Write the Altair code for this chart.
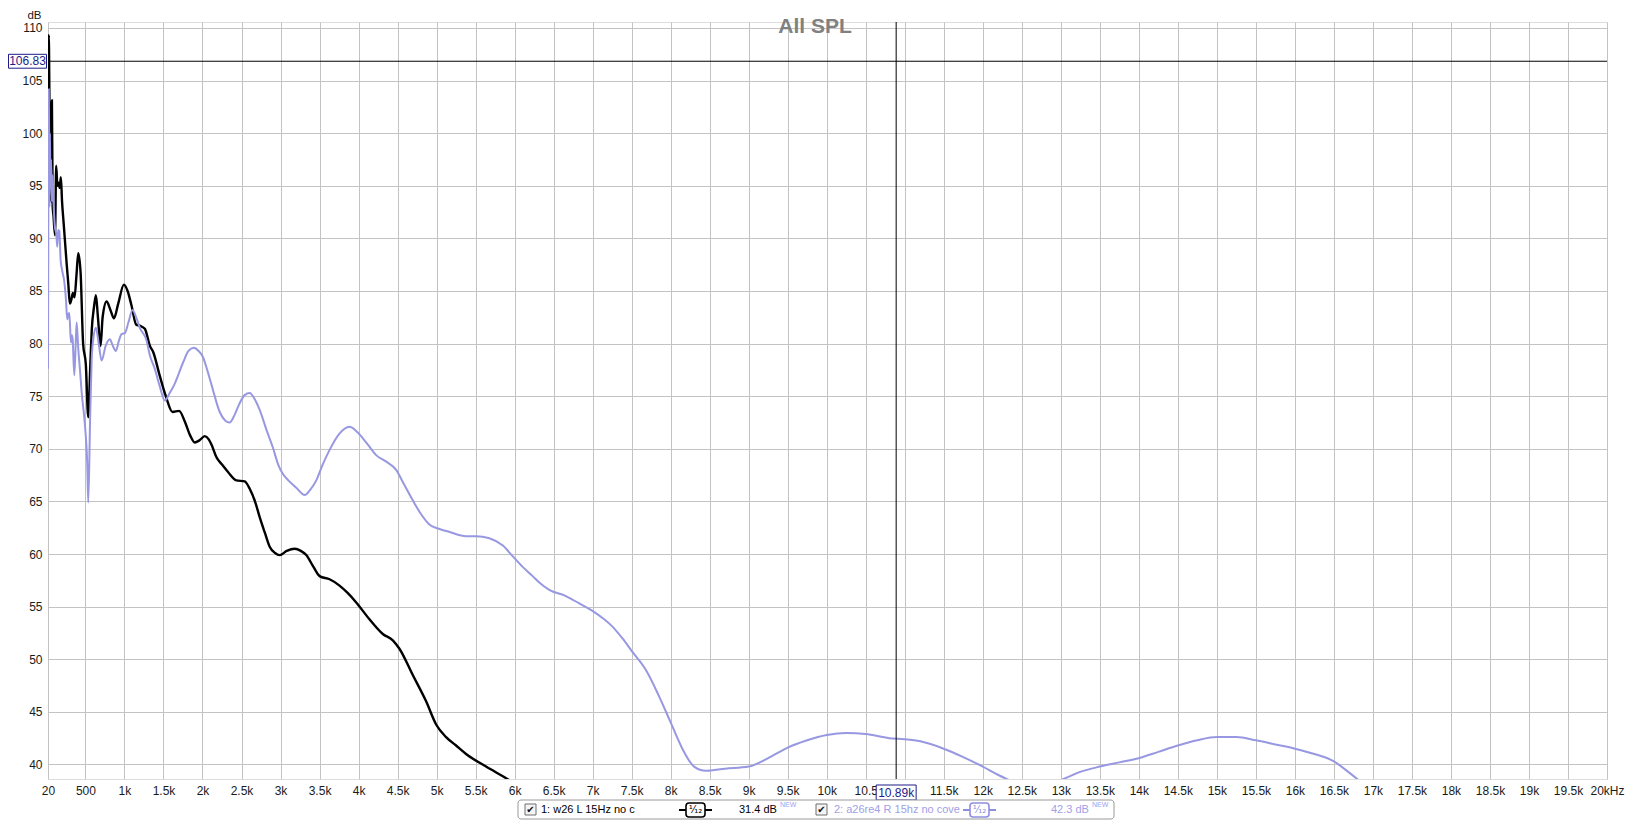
import altair as alt
import pandas as pd

# ---------------- data ----------------
black_freq = [20, 30, 40, 50, 60, 70, 80, 90, 110, 125,
              140, 155, 170, 185, 200, 220, 240, 260, 280, 300,
              320, 340, 360, 385, 408, 438, 470, 505, 536, 560,
              580, 610, 634, 660, 694, 720, 771, 820, 865, 920,
              993, 1040, 1091, 1150, 1197, 1261, 1325, 1368, 1450, 1530,
              1616, 1700, 1773, 1840, 1901, 1960, 2029, 2080, 2115, 2179,
              2250, 2327, 2434, 2541, 2605, 2682, 2733, 2800, 2861, 2930,
              2989, 3080, 3181, 3260, 3330, 3420, 3501, 3629, 3756, 3860,
              3970, 4140, 4311, 4439, 4524, 4695, 4866, 4994, 5122, 5250,
              5378, 5634, 5890, 6000]
black_spl = [102.0, 109.3, 102.0, 99.0, 93.5, 103.1, 93.0, 92.2, 90.3, 96.9,
             95.0, 95.3, 94.8, 95.8, 93.5, 91.5, 89.5, 87.5, 85.7, 83.8,
             84.2, 84.8, 84.4, 86.5, 88.6, 86.7, 80.0, 78.0, 73.0, 77.5,
             81.2, 83.5, 84.6, 82.5, 79.8, 82.5, 84.0, 83.2, 82.4, 83.8,
             85.6, 85.0, 83.6, 81.8, 81.7, 81.4, 79.8, 79.2, 77.0, 75.0,
             73.5, 73.6, 72.6, 71.3, 70.6, 70.8, 71.2, 70.9, 70.4, 69.2,
             68.5, 67.8, 67.0, 66.9, 66.2, 64.8, 63.5, 62.0, 60.7, 60.1,
             59.9, 60.3, 60.5, 60.3, 59.9, 58.8, 57.9, 57.6, 57.0, 56.3,
             55.4, 53.8, 52.4, 51.8, 51.0, 48.5, 46.0, 43.8, 42.6, 41.8,
             41.0, 39.8, 38.7, 38.2]

blue_freq = [20, 25, 30, 35, 40, 45, 50, 60, 70, 80,
             90, 100, 110, 125, 139, 150, 165, 182, 195, 208,
             225, 250, 267, 280, 293, 314, 325, 336, 357, 375,
             387, 408, 430, 451, 493, 523, 536, 560, 580, 600,
             634, 670, 707, 760, 813, 850, 890, 930, 963, 1005,
             1050, 1104, 1150, 1197, 1283, 1325, 1389, 1450, 1517, 1580,
             1645, 1751, 1820, 1888, 1950, 2007, 2060, 2115, 2221, 2290,
             2349, 2410, 2468, 2540, 2605, 2670, 2733, 2820, 2903, 2970,
             3031, 3100, 3202, 3309, 3380, 3458, 3540, 3629, 3750, 3884,
             3970, 4055, 4140, 4226, 4350, 4482, 4570, 4695, 4800, 4908,
             5030, 5164, 5378, 5506, 5676, 5850, 5974, 6100, 6231, 6316,
             6444, 6657, 6830, 6998, 7130, 7254, 7380, 7510, 7681, 7850,
             8000, 8150, 8300, 8450, 8700, 9000, 9250, 9500, 9750, 10000,
             10250, 10500, 10800, 11000, 11200, 11500, 11750, 12000, 12200, 12400,
             12600, 12800, 13000, 13250, 13500, 13750, 14000, 14250, 14500, 14750,
             15000, 15250, 15500, 15750, 16000, 16250, 16500, 16700, 16900]
blue_spl = [77.6, 95.0, 104.2, 99.0, 93.0, 100.0, 96.0, 97.5, 93.5, 96.0,
            93.6, 92.0, 91.0, 90.5, 89.2, 90.8, 90.7, 87.9, 87.2, 86.7,
            86.1, 84.2, 82.3, 82.8, 82.9, 80.1, 80.8, 80.4, 77.0, 80.0,
            82.0, 79.5, 77.5, 75.4, 72.3, 68.5, 64.9, 73.0, 78.5, 80.4,
            81.5, 80.0, 78.4, 79.8, 80.4, 79.8, 79.3, 80.3, 80.9, 81.0,
            82.0, 83.2, 82.5, 81.5, 80.3, 78.9, 77.6, 76.0, 74.6, 75.3,
            76.2, 78.2, 79.3, 79.6, 79.3, 78.7, 77.5, 76.1, 73.5, 72.7,
            72.5, 73.2, 74.2, 75.1, 75.3, 74.7, 73.7, 71.8, 70.1, 68.5,
            67.6, 67.0, 66.3, 65.6, 66.1, 67.0, 68.5, 69.9, 71.4, 72.1,
            71.7, 71.0, 70.2, 69.4, 68.8, 68.0, 66.8, 65.1, 63.8, 62.8,
            62.4, 62.1, 61.7, 61.7, 61.5, 60.8, 59.8, 58.8, 57.9, 57.3,
            56.6, 56.0, 55.3, 54.6, 53.9, 53.1, 52.0, 50.7, 49.0, 46.5,
            44.0, 41.5, 39.8, 39.4, 39.6, 39.8, 40.6, 41.6, 42.3, 42.8,
            43.0, 42.9, 42.5, 42.4, 42.2, 41.5, 40.7, 39.8, 39.0, 38.3,
            37.6, 37.8, 38.5, 39.3, 39.8, 40.2, 40.6, 41.2, 41.8, 42.3,
            42.6, 42.6, 42.3, 41.9, 41.5, 41.0, 40.3, 39.2, 38.0]

series_names = ["1: w26 L 15Hz no c", "2: a26re4 R 15hz no cove"]
series_colors = ["#000000", "#9898e2"]
series_levels = ["31.4 dB", "42.3 dB"]
smoothing_label = "¹⁄₁₂"

x_ticks = [20] + list(range(500, 20001, 500))
y_ticks = list(range(40, 111, 5))

cursor_freq = 10890
cursor_spl = 106.83
cursor_freq_label = "10.89k"
cursor_spl_label = "106.83"
chart_title = "All SPL"

# ---------------- layout ----------------
W, H = 1559, 757
XDOM = [20, 20000]
YDOM = [38.62, 110.56]
FONT = "Liberation Sans"

rows = []
for f, s in zip(black_freq, black_spl):
    rows.append({"freq": f, "spl": s, "series": series_names[0], "ord": 0})
for f, s in zip(blue_freq, blue_spl):
    rows.append({"freq": f, "spl": s, "series": series_names[1], "ord": 1})
df = pd.DataFrame(rows)

# the cursor read-out box sits on the 11k label (hidden) and the "k" of 10.5k
x_axis = alt.Axis(values=x_ticks, grid=True, gridColor="#c3c3c3", gridWidth=1,
                  ticks=False, domain=False, labelFont=FONT, labelFontSize=12,
                  labelColor="#1a1a1a", labelPadding=6, labelOverlap=False,
                  labelFlush=False, title=None,
                  labelExpr="datum.value == 20 ? '20' : datum.value == 500 ? '500' : "
                            "datum.value == 20000 ? '20kHz' : datum.value == 11000 ? '' : "
                            "datum.value == 10500 ? '10.5' : (datum.value/1000) + 'k'")
y_axis = alt.Axis(values=y_ticks, grid=True, gridColor="#c3c3c3", gridWidth=1,
                  ticks=False, domain=False, labelFont=FONT, labelFontSize=12,
                  labelColor="#1a1a1a", labelPadding=6, labelOverlap=False,
                  title="dB", titleAngle=0, titleX=-14, titleY=-3.5,
                  titleAlign="center", titleBaseline="alphabetic",
                  titleFont=FONT, titleFontSize=11.5, titleFontWeight="normal",
                  titleColor="#1a1a1a")

def xe(field="freq"):
    return alt.X(f"{field}:Q", scale=alt.Scale(domain=XDOM, nice=False, zero=False), axis=x_axis)

def ye(field="spl"):
    return alt.Y(f"{field}:Q", scale=alt.Scale(domain=YDOM, nice=False, zero=False), axis=y_axis)

lines = alt.Chart(df).mark_line(clip=True, interpolate="monotone").encode(
    x=xe(), y=ye(),
    color=alt.Color("series:N", scale=alt.Scale(domain=series_names, range=series_colors), legend=None),
    strokeWidth=alt.StrokeWidth("series:N", scale=alt.Scale(domain=series_names, range=[2.4, 2.0]), legend=None),
    order="ord:Q",
)

cur_df = pd.DataFrame({"freq": [cursor_freq], "spl": [cursor_spl],
                       "freq_lo": [cursor_freq - 256], "freq_hi": [cursor_freq + 256],
                       "spl_lo": [cursor_spl - 0.66], "spl_hi": [cursor_spl + 0.66],
                       "flab": [cursor_freq_label], "slab": [cursor_spl_label]})

hrule = alt.Chart(cur_df).mark_rule(color="black", strokeWidth=1).encode(y=ye())
vrule = alt.Chart(cur_df).mark_rule(color="black", strokeWidth=1).encode(x=xe())

ybox = alt.Chart(cur_df).mark_rect(fill="white", stroke="#1c1c8a", strokeWidth=1).encode(
    x=alt.value(-39.5), x2=alt.value(-1.5), y=ye("spl_hi"), y2=alt.Y2("spl_lo"))
ytxt = alt.Chart(cur_df).mark_text(font=FONT, fontSize=12, color="#1c1c8a").encode(
    x=alt.value(-20.5), y=ye(), text="slab:N")
xbox = alt.Chart(cur_df).mark_rect(fill="white", stroke="#1c1c8a", strokeWidth=1).encode(
    x=xe("freq_lo"), x2=alt.X2("freq_hi"), y=alt.value(763), y2=alt.value(778))
xtxt = alt.Chart(cur_df).mark_text(font=FONT, fontSize=12, color="#1c1c8a").encode(
    x=xe(), y=alt.value(771), text="flab:N")

title_df = pd.DataFrame({"t": [chart_title]})
title = alt.Chart(title_df).mark_text(font=FONT, fontSize=21, fontWeight="bold",
                                      color="#808080").encode(
    x=alt.value(767), y=alt.value(5), text="t:N")

# ---------------- legend box (REW style) ----------------
leg = []
box = alt.Chart(title_df).mark_rect(fill="white", stroke="#9a9a9a", strokeWidth=1,
                                     cornerRadius=3).encode(
    x=alt.value(470), x2=alt.value(1066), y=alt.value(778), y2=alt.value(797))
leg.append(box)

item_x = [(477, 493, 631, 691, 732), (768, 786, 915, 1003, 1044)]
text_colors = ["#000000", "#a0a0e6"]
sym_colors = ["#000000", "#8e8ee0"]
ymid = 788
for i in range(2):
    cb, tx, sx, lv, nw = item_x[i]
    tdf = pd.DataFrame({"name": [series_names[i]], "lvl": [series_levels[i]],
                        "new": ["NEW"], "chk": ["✔"], "sm": [smoothing_label]})
    leg.append(alt.Chart(tdf).mark_rect(fill="#f4f4f4", stroke="#6e6e6e", strokeWidth=1).encode(
        x=alt.value(cb), x2=alt.value(cb + 11), y=alt.value(ymid - 6), y2=alt.value(ymid + 5)))
    leg.append(alt.Chart(tdf).mark_text(font="DejaVu Sans", fontSize=10, color="#111").encode(
        x=alt.value(cb + 5.5), y=alt.value(ymid), text="chk:N"))
    leg.append(alt.Chart(tdf).mark_text(font=FONT, fontSize=11, align="left",
                                        color=text_colors[i]).encode(
        x=alt.value(tx), y=alt.value(ymid), text="name:N"))
    leg.append(alt.Chart(tdf).mark_rule(color=sym_colors[i], strokeWidth=2).encode(
        x=alt.value(sx), x2=alt.value(sx + 33), y=alt.value(ymid)))
    leg.append(alt.Chart(tdf).mark_rect(fill="white", stroke=sym_colors[i], strokeWidth=1.6,
                                        cornerRadius=3).encode(
        x=alt.value(sx + 7), x2=alt.value(sx + 26), y=alt.value(ymid - 7), y2=alt.value(ymid + 7)))
    leg.append(alt.Chart(tdf).mark_text(font="DejaVu Sans", fontSize=10, color=sym_colors[i]).encode(
        x=alt.value(sx + 16.5), y=alt.value(ymid), text="sm:N"))
    leg.append(alt.Chart(tdf).mark_text(font=FONT, fontSize=11, align="left",
                                        color=text_colors[i]).encode(
        x=alt.value(lv), y=alt.value(ymid), text="lvl:N"))
    leg.append(alt.Chart(tdf).mark_text(font=FONT, fontSize=7, align="left",
                                        color="#9aa2ee").encode(
        x=alt.value(nw), y=alt.value(ymid - 5), text="new:N"))

chart = alt.layer(lines, hrule, vrule, xbox, xtxt, ybox, ytxt, title, *leg).properties(
    width=W, height=H,
    autosize=alt.AutoSizeParams(type="none"),
    padding={"left": 40, "top": 14, "right": 18, "bottom": 41},
).configure_view(stroke="#a8a8a8", strokeWidth=2).configure(background="white")

chart.save("out.html", embed_options={"renderer": "svg", "actions": False})
